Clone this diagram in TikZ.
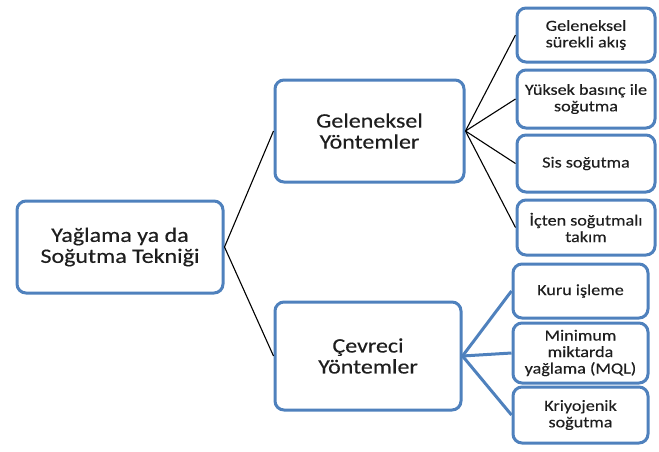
\documentclass[tikz,border=0pt]{standalone}
\usepackage{fontspec}
\setmainfont{Carlito}[FakeStretch=1.17,FakeBold=0.3]
\definecolor{boxblue}{RGB}{79,129,189}
\definecolor{txt}{RGB}{30,30,30}
\begin{document}
\begin{tikzpicture}[x=1pt,y=-1pt,
  box/.style={draw=boxblue, line width=3pt, rounded corners=9pt, fill=white, align=center, inner sep=1pt, text=txt},
  bigbox/.style={box, font=\fontsize{20.5}{21}\selectfont},
  smallbox/.style={box, font=\fontsize{15.5}{16.5}\selectfont},
  blk/.style={draw=black, line width=1.1pt},
  blu/.style={draw=boxblue, line width=3pt}]
\useasboundingbox (0,0) rectangle (659,451);
\node[bigbox, minimum width=206pt, minimum height=92pt] (root) at (120,247) {Yağlama ya da\\Soğutma Tekniği};
\node[bigbox, minimum width=189pt, minimum height=102pt] (gel) at (369.5,131) {Geleneksel\\Yöntemler};
\node[bigbox, minimum width=186pt, minimum height=108pt] (cev) at (368,356) {Çevreci\\Yöntemler};
\node[smallbox, minimum width=138pt, minimum height=54pt] (g1) at (586,35) {Geleneksel\\sürekli akış};
\node[smallbox, minimum width=138pt, minimum height=58pt] (g2) at (586,99) {Yüksek basınç ile\\soğutma};
\node[smallbox, minimum width=138pt, minimum height=57pt] (g3) at (586,163.5) {Sis soğutma};
\node[smallbox, minimum width=138pt, minimum height=55pt] (g4) at (586,227.5) {İçten soğutmalı\\takım};
\node[smallbox, minimum width=135pt, minimum height=54pt] (c1) at (580.5,291) {Kuru işleme};
\node[smallbox, minimum width=135pt, minimum height=60pt] (c2) at (580.5,353) {Minimum\\miktarda\\yağlama (MQL)};
\node[smallbox, minimum width=135pt, minimum height=56pt] (c3) at (580.5,415) {Kriyojenik\\soğutma};
\draw[blk] (root.east) -- (gel.west);
\draw[blk] (root.east) -- (cev.west);
\foreach \n in {g1,g2,g3,g4} \draw[blk] (gel.east) -- (\n.west);
\foreach \n in {c1,c2,c3} \draw[blu] (cev.east) -- (\n.west);
\end{tikzpicture}
\end{document}
